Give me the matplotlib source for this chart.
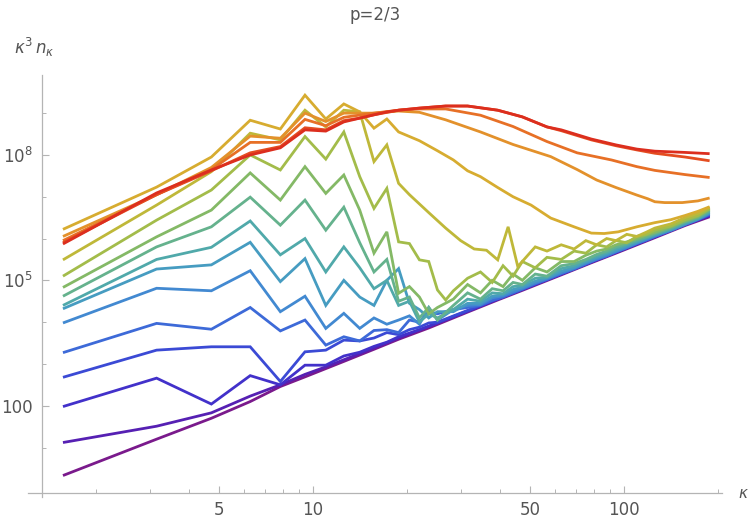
import numpy as np
import matplotlib
matplotlib.use("Agg")
from matplotlib import pyplot as plt
from matplotlib.colors import LinearSegmentedColormap
from matplotlib.ticker import FixedLocator, NullFormatter

# kappa = n * pi/2, values are log10(kappa^3 n_kappa)
dk = np.pi / 2

n0 = [1, 2, 3, 4, 5, 6, 8, 10, 12, 15, 20, 25, 30, 40, 50, 60, 80, 100, 120]
v0 = [0.33, 1.20, 1.70, 2.10, 2.46, 2.69, 3.06, 3.35, 3.59, 3.86, 4.24, 4.53, 4.76, 5.13, 5.42, 5.65, 6.02, 6.31, 6.52]

n1 = [1, 2, 3, 4, 5, 6, 7, 8, 10, 12, 15, 20, 30, 40, 60, 80, 100, 120]
v1 = [1.12, 1.51, 1.83, 2.23, 2.50, 2.75, 2.93, 3.10, 3.38, 3.62, 3.90, 4.27, 4.79, 5.15, 5.67, 6.04, 6.33, 6.54]

n2 = [1, 2, 3, 4, 5, 6, 7, 8, 9, 10, 11, 12, 14, 16, 20, 25, 30, 40, 50, 60, 80, 100, 120]
v2 = [1.98, 2.66, 2.04, 2.72, 2.50, 2.97, 2.97, 3.19, 3.28, 3.42, 3.52, 3.65, 3.82, 3.98, 4.26, 4.55, 4.78, 5.15, 5.44, 5.67, 6.04, 6.33, 6.56]

n3 = [1, 2, 3, 4, 5, 6, 7, 8, 9, 10, 11, 12, 13, 14, 15, 16, 20, 25, 30, 40, 50, 60, 80, 100, 120]
v3 = [2.68, 3.33, 3.41, 3.41, 2.58, 3.29, 3.33, 3.57, 3.55, 3.62, 3.75, 3.70, 3.82, 3.88, 3.98, 4.00, 4.28, 4.57, 4.79, 5.16, 5.45, 5.68, 6.05, 6.34, 6.57]

n4 = [1, 2, 3, 4, 5, 6, 7, 8, 9, 10, 11, 12, 13, 14, 15, 16, 18, 20, 22, 24, 26, 28, 30, 33, 36, 40, 44, 48, 52, 56, 60, 65, 70, 75, 80, 90, 100, 110, 120]
v4 = [3.27, 3.97, 3.83, 4.35, 3.79, 4.05, 3.45, 3.65, 3.55, 3.80, 3.82, 3.75, 4.05, 4.00, 4.25, 4.20, 4.30, 4.35, 4.40, 4.52, 4.60, 4.70, 4.79, 4.92, 5.02, 5.16, 5.27, 5.39, 5.50, 5.58, 5.68, 5.78, 5.88, 5.96, 6.05, 6.19, 6.33, 6.45, 6.58]

n5 = [1, 2, 3, 4, 5, 6, 7, 8, 9, 10, 11, 12, 13, 14, 15, 16, 18, 20, 22, 24, 26, 28, 30, 33, 36, 40, 44, 48, 52, 56, 60, 65, 70, 75, 80, 90, 100, 110, 120]
v5 = [3.98, 4.81, 4.75, 5.23, 4.25, 4.62, 3.85, 4.21, 3.85, 4.10, 3.95, 4.05, 4.15, 3.95, 4.35, 4.05, 4.30, 4.40, 4.42, 4.58, 4.63, 4.73, 4.81, 4.94, 5.04, 5.18, 5.29, 5.41, 5.51, 5.60, 5.69, 5.79, 5.89, 5.98, 6.06, 6.20, 6.34, 6.46, 6.60]

n6 = [1, 2, 3, 4, 5, 6, 7, 8, 9, 10, 11, 12, 13, 14, 15, 16, 18, 20, 22, 24, 26, 28, 30, 33, 36, 40, 44, 48, 52, 56, 60, 65, 70, 75, 80, 90, 100, 110, 120]
v6 = [4.32, 5.27, 5.37, 5.91, 4.97, 5.52, 4.40, 5.00, 4.60, 4.40, 5.00, 5.28, 4.45, 4.30, 4.10, 4.25, 4.25, 4.45, 4.45, 4.62, 4.66, 4.78, 4.84, 4.98, 5.06, 5.22, 5.31, 5.44, 5.54, 5.63, 5.72, 5.82, 5.91, 6.00, 6.08, 6.21, 6.35, 6.47, 6.62]

n7 = [1, 2, 3, 4, 5, 6, 7, 8, 9, 10, 11, 12, 13, 14, 15, 16, 18, 20, 22, 24, 26, 28, 30, 33, 36, 40, 44, 48, 52, 56, 60, 65, 70, 75, 80, 90, 100, 110, 120]
v7 = [4.40, 5.50, 5.79, 6.42, 5.61, 6.00, 5.20, 5.80, 5.30, 4.80, 5.00, 4.40, 4.50, 4.00, 4.20, 4.10, 4.30, 4.55, 4.50, 4.70, 4.68, 4.85, 4.88, 5.05, 5.08, 5.28, 5.35, 5.47, 5.58, 5.66, 5.76, 5.85, 5.94, 6.02, 6.10, 6.23, 6.38, 6.48, 6.64]

n8 = [1, 2, 3, 4, 5, 6, 7, 8, 9, 10, 11, 12, 13, 14, 15, 16, 18, 20, 22, 24, 26, 28, 30, 33, 36, 40, 44, 48, 52, 56, 60, 65, 70, 75, 80, 90, 100, 110, 120]
v8 = [4.62, 5.80, 6.28, 6.99, 6.32, 6.92, 6.20, 6.75, 5.90, 5.20, 5.50, 4.50, 4.60, 4.10, 4.35, 4.05, 4.40, 4.70, 4.55, 4.80, 4.75, 4.95, 4.90, 5.15, 5.10, 5.35, 5.40, 5.50, 5.62, 5.70, 5.80, 5.88, 5.97, 6.04, 6.12, 6.25, 6.40, 6.50, 6.67]

n9 = [1, 2, 3, 4, 5, 6, 7, 8, 9, 10, 11, 12, 13, 14, 15, 16, 18, 20, 22, 24, 26, 28, 30, 33, 36, 40, 44, 48, 52, 56, 60, 65, 70, 75, 80, 90, 100, 110, 120]
v9 = [4.83, 6.04, 6.68, 7.57, 6.92, 7.72, 7.08, 7.52, 6.68, 5.65, 6.16, 4.69, 4.85, 4.60, 4.20, 4.35, 4.55, 4.90, 4.70, 5.00, 4.85, 5.15, 5.00, 5.30, 5.20, 5.45, 5.45, 5.60, 5.70, 5.75, 5.85, 5.92, 6.00, 6.08, 6.15, 6.28, 6.42, 6.53, 6.70]

n10 = [1, 2, 3, 4, 5, 6, 7, 8, 9, 10, 11, 12, 13, 14, 15, 16, 17, 18, 20, 22, 24, 26, 28, 30, 33, 36, 40, 44, 48, 52, 56, 60, 65, 70, 75, 80, 90, 100, 110, 120]
v10 = [5.10, 6.44, 7.16, 8.00, 7.64, 8.44, 7.90, 8.55, 7.48, 6.72, 7.20, 5.92, 5.88, 5.49, 5.45, 4.77, 4.53, 4.75, 5.05, 5.20, 4.95, 5.35, 5.10, 5.45, 5.30, 5.55, 5.50, 5.70, 5.65, 5.85, 5.80, 5.95, 5.90, 6.05, 6.10, 6.20, 6.30, 6.45, 6.55, 6.72]

n11 = [1, 2, 3, 4, 5, 6, 7, 8, 9, 10, 11, 12, 13, 15, 17, 19, 21, 23, 25, 27, 29, 33, 36, 40, 44, 48, 52, 56, 60, 65, 70, 75, 80, 90, 100, 110, 120]
v11 = [5.49, 6.80, 7.60, 8.52, 8.36, 9.07, 8.67, 9.07, 9.03, 7.84, 8.24, 7.32, 7.05, 6.62, 6.25, 5.95, 5.75, 5.72, 5.49, 6.28, 5.33, 5.80, 5.70, 5.85, 5.75, 5.95, 5.85, 6.00, 5.95, 6.10, 6.05, 6.15, 6.25, 6.35, 6.50, 6.60, 6.75]

n12 = [1, 2, 3, 4, 5, 6, 7, 8, 9, 10, 11, 12, 14, 16, 18, 20, 22, 25, 28, 32, 37, 44, 50, 55, 61, 70, 80, 90, 100, 110, 120]
v12 = [6.22, 7.23, 7.95, 8.83, 8.62, 9.43, 8.86, 9.22, 9.03, 8.64, 8.86, 8.55, 8.34, 8.10, 7.88, 7.62, 7.48, 7.22, 7.00, 6.80, 6.49, 6.28, 6.13, 6.12, 6.16, 6.28, 6.38, 6.45, 6.55, 6.65, 6.76]

n13 = [1, 2, 3, 4, 5, 6, 7, 8, 10, 12, 14, 17, 22, 28, 37, 45, 52, 60, 70, 76, 80, 86, 98, 110, 120]
v13 = [6.05, 7.05, 7.70, 8.45, 8.40, 9.00, 8.80, 9.00, 9.00, 9.05, 9.02, 8.84, 8.55, 8.25, 7.96, 7.65, 7.40, 7.22, 7.04, 6.95, 6.88, 6.86, 6.86, 6.90, 6.97]

n14 = [1, 2, 3, 4, 5, 6, 7, 8, 10, 12, 14, 17, 22, 28, 36, 45, 58, 70, 80, 100, 120]
v14 = [5.95, 7.05, 7.65, 8.30, 8.30, 8.85, 8.70, 8.90, 9.00, 9.07, 9.10, 9.10, 8.95, 8.68, 8.32, 8.05, 7.88, 7.72, 7.63, 7.53, 7.46]

n15 = [1, 2, 3, 4, 5, 6, 7, 8, 9, 10, 12, 14, 17, 20, 25, 30, 36, 40, 50, 60, 70, 80, 100, 120]
v15 = [5.90, 7.05, 7.62, 8.05, 8.20, 8.65, 8.60, 8.82, 8.88, 8.96, 9.07, 9.12, 9.17, 9.17, 9.07, 8.91, 8.67, 8.58, 8.36, 8.22, 8.12, 8.04, 7.95, 7.86]

n16 = [1, 2, 3, 4, 5, 6, 7, 8, 9, 10, 11, 12, 14, 17, 20, 25, 30, 36, 40, 50, 60, 70, 80, 100, 120]
v16 = [5.87, 7.09, 7.64, 8.00, 8.17, 8.60, 8.57, 8.79, 8.88, 8.96, 9.03, 9.07, 9.12, 9.17, 9.17, 9.07, 8.91, 8.67, 8.60, 8.38, 8.24, 8.14, 8.09, 8.06, 8.03]

series = [(n0, v0), (n1, v1), (n2, v2), (n3, v3), (n4, v4), (n5, v5), (n6, v6),
          (n7, v7), (n8, v8), (n9, v9), (n10, v10), (n11, v11), (n12, v12),
          (n13, v13), (n14, v14), (n15, v15), (n16, v16)]

rainbow = LinearSegmentedColormap.from_list("rainbow_m", [
    "#7a1a8c", "#4a22c0", "#3a3fd4", "#3d6ad8", "#4392cf", "#48a6b4",
    "#64b28e", "#8dbb5a", "#b6bd3c", "#d6ad30", "#e68a2a", "#e85a22", "#dc2e1e"])

plt.rcParams['font.family'] = ['DejaVu Sans']
plt.rcParams['mathtext.fontset'] = 'dejavusans'
gray = "#555555"

fig = plt.figure(figsize=(7.5, 5.3), dpi=100)
ax = fig.add_axes([41.5 / 750, 1 - 493 / 530, (722 - 41.5) / 750, (493 - 75) / 530])

for i, (nn, vv) in enumerate(series):
    k = np.array(nn) * dk
    y = np.power(10.0, vv)
    ax.plot(k, y, color=rainbow(i / (len(series) - 1)), lw=2.0,
            solid_joinstyle='miter', solid_capstyle='butt', clip_on=False)

ax.set_xscale('log')
ax.set_yscale('log')
ax.set_xlim(1.34, 206.6)
ax.set_ylim(0.817, 8.17e9)

for s in ['top', 'right']:
    ax.spines[s].set_visible(False)
for s in ['left', 'bottom']:
    ax.spines[s].set_color("#b4b4b4")
    ax.spines[s].set_linewidth(0.9)
ax.spines['bottom'].set_bounds(1.21, 206.6)
ax.spines['left'].set_bounds(0.66, 8.17e9)

ax.xaxis.set_major_locator(FixedLocator([5, 10, 50, 100]))
ax.xaxis.set_minor_locator(FixedLocator([2, 3, 4, 6, 7, 8, 9, 20, 30, 40, 60, 70, 80, 90, 200]))
ax.set_xticklabels(["5", "10", "50", "100"])
ax.xaxis.set_minor_formatter(NullFormatter())

ax.yaxis.set_major_locator(FixedLocator([1e2, 1e5, 1e8]))
ax.yaxis.set_minor_locator(FixedLocator([10, 1e3, 1e4, 1e6, 1e7, 1e9]))
ax.set_yticklabels(["100", r"$10^{5}$", r"$10^{8}$"])
ax.yaxis.set_minor_formatter(NullFormatter())

ax.tick_params(which='major', direction='in', length=5, width=0.8, color="#b4b4b4",
               labelcolor=gray, labelsize=12, pad=6)
ax.tick_params(which='minor', direction='in', length=3, width=0.7, color="#b4b4b4")

fig.text(375 / 750, 1 - 15 / 530, "p=2/3", ha='center', va='center', color=gray, fontsize=12)
fig.text(14 / 750, 1 - 47 / 530, r"$\kappa^3\,n_\kappa$", ha='left', va='center', color=gray, fontsize=12)
fig.text(743 / 750, 1 - 494 / 530, r"$\kappa$", ha='center', va='center', color=gray, fontsize=11)

fig.savefig("out.png", dpi=100)
